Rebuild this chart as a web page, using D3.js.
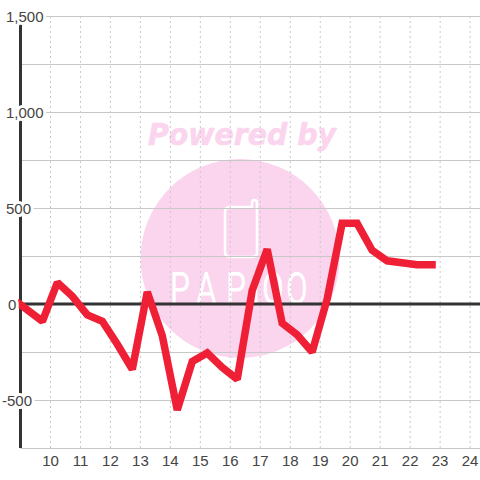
<!DOCTYPE html>
<html>
<head>
<meta charset="utf-8">
<script src="https://cdn.jsdelivr.net/npm/d3@7"></script>
<style>
  html, body { margin: 0; padding: 0; background: #fff; }
  svg { display: block; }
  text { font-family: "Liberation Sans", Arial, sans-serif; }
</style>
</head>
<body>
<div id="chart"></div>
<script>
// values
var hours = [8.97, 9.73, 10.23, 10.73, 11.23, 11.73, 12.23, 12.73, 13.23, 13.73, 14.23, 14.73, 15.23, 15.73,
  16.23, 16.73, 17.23, 17.73, 18.23, 18.73, 19.23, 19.73, 20.23, 20.73, 21.23, 21.73, 22.23, 22.73];
var values = [0, -90, 112, 40, -57, -90, -210, -340, 63, -165, -552, -300, -255, -330,
  -392, 70, 285, -100, -160, -250, 25, 420, 420, 280, 225, 215, 205, 205];
var xTicks = [10, 11, 12, 13, 14, 15, 16, 17, 18, 19, 20, 21, 22, 23, 24];
var yGrid = [-750, -500, -250, 250, 500, 750, 1000, 1250, 1500];
var yTicks = [-500, 0, 500, 1000, 1500];
var logoLetters = ["P", "A", "P", "i", "O", "O"];
var logoLeft = [170, 196, 226, 252, 262, 286];

var svgWidth = 480;
var svgHeight = 480;
var margin = { top: 16, right: 0, bottom: 32, left: 20.5 };
var height = svgHeight - margin.top - margin.bottom;

var svg = d3.select("#chart").append("svg")
  .attr("width", svgWidth)
  .attr("height", svgHeight);

// Scales
var xScale = d3.scaleLinear().domain([9, 24.33]).range([margin.left, svgWidth]);
var yScale = d3.scaleLinear().domain([-750, 1500]).range([margin.top + height, margin.top]);

// Watermark goes under the grid
var mark = svg.append("g");
mark.append("circle")
  .attr("cx", 240)
  .attr("cy", 258.5)
  .attr("r", 99.5)
  .attr("fill", "#fbd5ee");
mark.append("text")
  .attr("x", 148)
  .attr("y", 145)
  .attr("textLength", 188)
  .attr("lengthAdjust", "spacingAndGlyphs")
  .style("font-family", "'DejaVu Sans'")
  .style("font-weight", "bold")
  .style("font-style", "italic")
  .style("font-size", "30px")
  .attr("fill", "#fbd5ee")
  .attr("stroke", "#fbd5ee")
  .attr("stroke-width", 0.6)
  .text("Powered by");
mark.append("path")
  .attr("d", "M231 207H252M257 202V252Q257 257 252 257H230Q225 257 225 252V212Q225 207 230 207M252 207V203Q252 200 254.5 200Q257 200 257 203")
  .attr("fill", "none")
  .attr("stroke", "#fff")
  .attr("stroke-width", 2.5)
  .attr("stroke-linecap", "round");
mark.append("g").selectAll("text")
  .data(logoLetters)
  .enter()
  .append("text")
  .attr("transform", (d, i) => `translate(${logoLeft[i]}, 304) scale(0.72, 1)`)
  .style("font-family", "Roboto")
  .style("font-weight", 400)
  .style("font-size", "44px")
  .attr("fill", "#fff")
  .text(d => d);

// Grid lines
svg.append("g").selectAll("line")
  .data(xTicks)
  .enter()
  .append("line")
  .attr("x1", d => xScale(d))
  .attr("x2", d => xScale(d))
  .attr("y1", yScale(1500))
  .attr("y2", yScale(-750))
  .attr("stroke", "#c8c8c8")
  .attr("stroke-dasharray", "2,3");

svg.append("g").selectAll("line")
  .data(yGrid)
  .enter()
  .append("line")
  .attr("x1", margin.left)
  .attr("x2", svgWidth)
  .attr("y1", d => yScale(d) + 0.5)
  .attr("y2", d => yScale(d) + 0.5)
  .attr("stroke", "#c8c8c8");

// Axis lines
svg.append("line")
  .attr("x1", margin.left)
  .attr("x2", margin.left)
  .attr("y1", yScale(1500))
  .attr("y2", yScale(-750))
  .attr("stroke", "#333")
  .attr("stroke-width", 3);
svg.append("line")
  .attr("x1", margin.left)
  .attr("x2", svgWidth)
  .attr("y1", yScale(0))
  .attr("y2", yScale(0))
  .attr("stroke", "#333")
  .attr("stroke-width", 3);

// Line
var line = d3.line()
  .x((d, i) => xScale(hours[i]))
  .y(d => yScale(d));

svg.append("path")
  .datum(values)
  .attr("d", line)
  .attr("fill", "none")
  .attr("stroke", "#ef1f36")
  .attr("stroke-width", 7.5)
  .attr("stroke-linecap", "square")
  .attr("stroke-linejoin", "miter")
  .attr("stroke-miterlimit", 1.5);

// Tick labels
svg.append("g").selectAll("text")
  .data(xTicks)
  .enter()
  .append("text")
  .attr("x", d => xScale(d))
  .attr("y", 466)
  .attr("text-anchor", "middle")
  .style("font-size", "15px")
  .attr("fill", "#444")
  .text(d => d);

svg.append("g").selectAll("text")
  .data(yTicks)
  .enter()
  .append("text")
  .attr("x", d => d === 0 ? 8 : (d < 0 ? 2 : 6))
  .attr("y", d => yScale(d) + 6)
  .style("font-size", "15px")
  .style("paint-order", "stroke")
  .attr("fill", "#444")
  .attr("stroke", "#fff")
  .attr("stroke-width", 6)
  .attr("stroke-linejoin", "round")
  .text(d => d3.format(",")(d).replace("\u2212", "-"));
</script>
</body>
</html>
